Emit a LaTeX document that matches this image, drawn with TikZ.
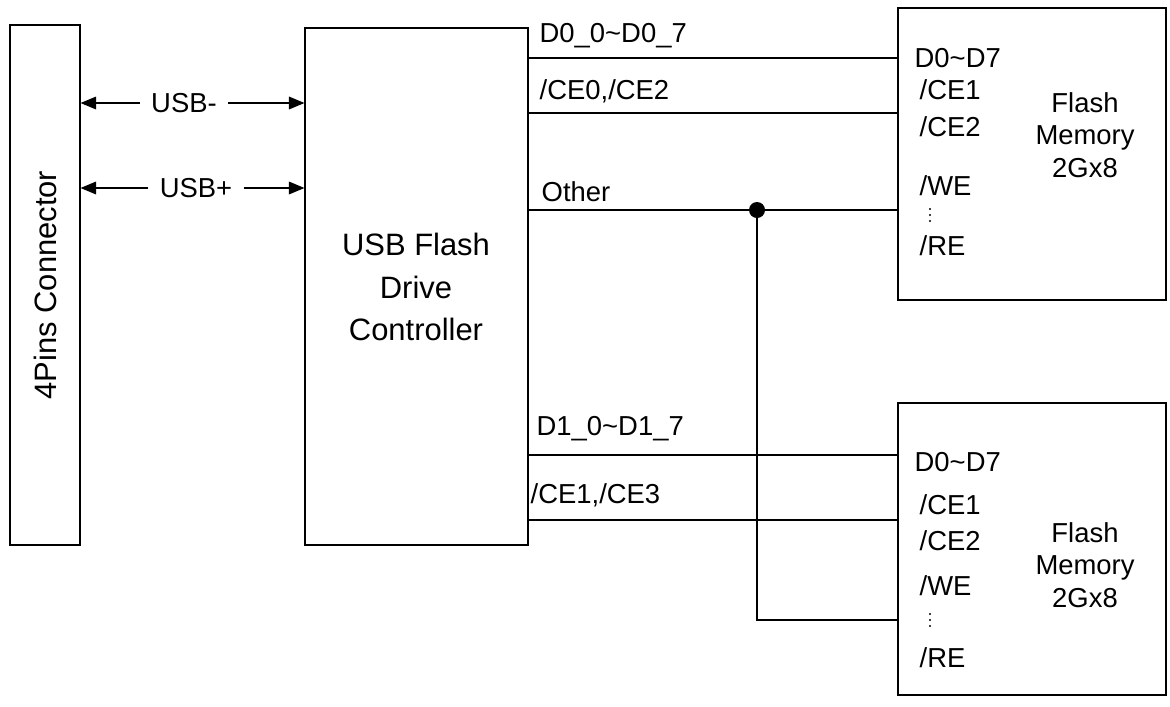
\documentclass[tikz,border=0pt]{standalone}
\usepackage{fontspec}
\setmainfont{Liberation Sans}
\usetikzlibrary{positioning}
\usetikzlibrary{arrows.meta}

\tikzset{
	blk/.style={draw,thick,inner sep=0pt},
	lbl/.style={font=\fontsize{19.5}{23}\selectfont,inner sep=1pt},
	big/.style={font=\fontsize{22}{30}\selectfont,inner sep=1pt},
	pin/.style={lbl,anchor=west},
	tag/.style={lbl,anchor=south west},
	sig/.style={thick},
	bus/.style={thick,-{Triangle[length=11pt,width=9pt]}}
}
\newcommand{\pindots}[1]{\foreach \dy in {-6,0,6} \fill (930,#1+\dy) circle (1.1);}

\begin{document}
\begin{tikzpicture}[x=0.025cm,y=-0.025cm]
		\useasboundingbox (0,0) rectangle (1170,706);
		% blocks
		\node [blk,minimum width=70*0.025cm,minimum height=520*0.025cm] (conn) at (45,285) {};
		\node [big,rotate=90] at (conn) {4Pins Connector};
		\node [blk,minimum width=223*0.025cm,minimum height=517*0.025cm] (ctrl) at (416.5,286.5) {};
		\node [big,align=center] at (416,287) {USB Flash\\Drive\\Controller};
		\node [blk,minimum width=268*0.025cm,minimum height=292*0.025cm] (fla) at (1032,154) {};
		\node [blk,minimum width=268*0.025cm,minimum height=292*0.025cm] (flb) at (1032,549) {};
		\node [lbl,align=center] at (1085,135) {Flash\\Memory\\2Gx8};
		\node [lbl,align=center] at (1085,565) {Flash\\Memory\\2Gx8};
		% usb lines
		\node [lbl,inner xsep=8pt] (um) at (184,103) {USB-};
		\node [lbl,inner xsep=8pt] (up) at (196,188) {USB+};
		\draw [bus] (um) -- (um -| conn.east);
		\draw [bus] (um) -- (um -| ctrl.west);
		\draw [bus] (up) -- (up -| conn.east);
		\draw [bus] (up) -- (up -| ctrl.west);
		% pins of first flash
		\node [pin] (a0) at (913,58) {D0\textasciitilde D7};
		\node [pin] at (918,90) {/CE1};
		\node [pin] (a2) at (918,127) {/CE2};
		\node [pin] at (918,186) {/WE};
		\pindots{215}
		\node [pin] at (918,246) {/RE};
		% pins of second flash
		\node [pin] (b0) at (913,462) {D0\textasciitilde D7};
		\node [pin] at (918,505) {/CE1};
		\node [pin] at (918,541) {/CE2};
		\node [pin] at (918,586) {/WE};
		\pindots{620}
		\node [pin] at (918,658) {/RE};
		% buses
		\coordinate (s1) at (528,58);
		\coordinate (s2) at (528,113);
		\coordinate (s3) at (528,210);
		\coordinate (s4) at (528,455);
		\coordinate (s5) at (528,520);
		\coordinate (dot) at (757,210);
		\coordinate (low) at (757,620);
		\draw [sig] (s1) -- (s1 -| fla.west);
		\draw [sig] (s2) -- (s2 -| fla.west);
		\draw [sig] (s3) -- (s3 -| fla.west);
		\draw [sig] (s4) -- (s4 -| flb.west);
		\draw [sig] (s5) -- (s5 -| flb.west);
		\node [tag] at (538,50) {D0\_0\textasciitilde D0\_7};
		\node [tag] at (538,105) {/CE0,/CE2};
		\node [tag] at (540,203) {Other};
		\node [tag] at (535,443) {D1\_0\textasciitilde D1\_7};
		\node [tag] at (529,509) {/CE1,/CE3};
		\draw [sig] (dot) -- (low) -- (low -| flb.west);
		\fill (dot) circle (8);
	\end{tikzpicture}
\end{document}
